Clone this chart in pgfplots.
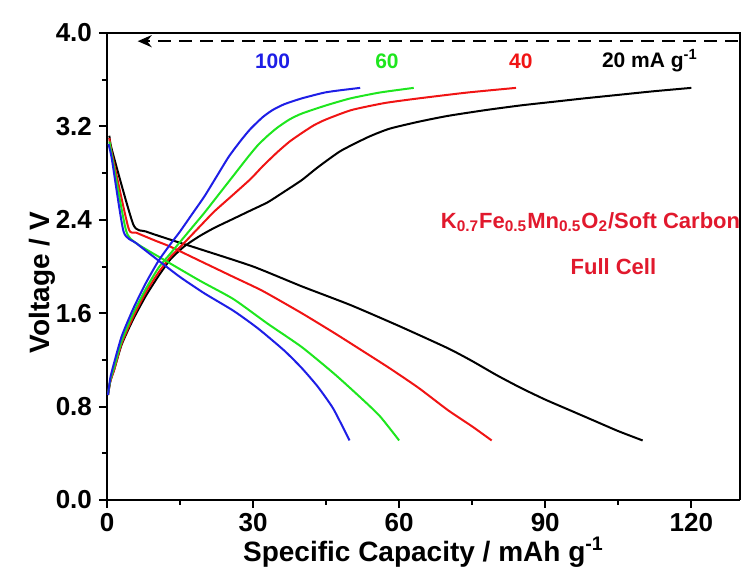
\documentclass[border=0pt]{standalone}
\usepackage{amsmath}
\usepackage{fontspec}
\setmainfont{Liberation Sans}
\usepackage{pgfplots}
\pgfplotsset{compat=1.18}
\usetikzlibrary{arrows.meta}
\definecolor{cblue}{RGB}{30,30,230}
\definecolor{cgreen}{RGB}{30,230,30}
\definecolor{cred}{RGB}{240,20,20}
\definecolor{tred}{RGB}{225,25,45}
\begin{document}
\begin{tikzpicture}
\begin{axis}[
  scale only axis, width=316.5pt, height=233.5pt,
  xmin=0, xmax=130, ymin=0, ymax=4,
  xtick={0,30,60,90,120}, minor xtick={15,45,75,105},
  ytick={0,0.8,1.6,2.4,3.2,4.0}, minor ytick={0.4,1.2,2.0,2.8,3.6},
  yticklabel style={/pgf/number format/fixed, /pgf/number format/fixed zerofill, /pgf/number format/precision=1},
  /pgf/number format/assume math mode=true,
  tick align=outside, axis x line*=bottom, axis y line*=left,
  major tick length=4pt, minor tick length=2.5pt,
  every tick/.style={black, line width=1pt},
  axis line style={line width=1pt},
  ticklabel style={font=\fontsize{13}{15}\selectfont\bfseries},
  xticklabel style={yshift=1pt},
  xlabel={Specific Capacity / mAh g$^{\text{-1}}$},
  ylabel={Voltage / V},
  label style={font=\fontsize{14}{16}\selectfont\bfseries},
  xlabel style={at={(axis description cs:0.5,0)}, anchor=center, yshift=-26pt},
  ylabel style={at={(axis description cs:0,0.465)}, anchor=center, yshift=32.5pt},
  clip=false,
  every axis plot/.style={line width=1pt, smooth, tension=0.35},
]
% black 20
\addplot[black] coordinates {(0.5,3.12)(1,3.0)(5.4,2.36)(8,2.3)(13,2.23)(19,2.15)(30,2.0)(40,1.83)(50,1.67)(60,1.49)(70,1.30)(75,1.19)(80,1.07)(85,0.96)(90,0.86)(95,0.77)(100,0.68)(105,0.59)(110,0.51)};
\addplot[black] coordinates {(0.2,0.9)(0.7,1.02)(1.5,1.12)(3,1.33)(5.4,1.55)(8,1.75)(10.6,1.92)(13,2.06)(15.8,2.17)(19,2.26)(22,2.33)(26,2.41)(29.5,2.48)(33,2.55)(36,2.63)(40,2.74)(43.3,2.85)(48,2.99)(53.7,3.11)(58,3.18)(64,3.24)(70,3.29)(77.8,3.34)(85,3.38)(91.5,3.41)(98,3.44)(105,3.47)(112,3.50)(120,3.53)};
% red 40
\addplot[cred] coordinates {(0.5,3.1)(1,2.97)(4.4,2.33)(6,2.29)(10,2.22)(13,2.17)(20,2.03)(26,1.91)(32,1.79)(40,1.6)(46.7,1.43)(52,1.29)(58,1.13)(64,0.96)(70,0.77)(75,0.63)(79,0.51)};
\addplot[cred] coordinates {(0.2,0.9)(0.7,1.02)(1.5,1.12)(3,1.34)(5.4,1.57)(8,1.78)(10.6,1.95)(13,2.08)(15.8,2.2)(19,2.34)(22,2.47)(25.5,2.6)(29.5,2.75)(32,2.86)(35,2.98)(37.5,3.07)(39.9,3.14)(42.5,3.21)(45,3.26)(50.2,3.34)(57,3.40)(64,3.44)(74,3.49)(84,3.53)};
% green 60
\addplot[cgreen] coordinates {(0.5,3.07)(1,2.95)(3.9,2.31)(6,2.2)(11.6,2.06)(19,1.88)(26,1.72)(33,1.51)(40,1.31)(46.7,1.08)(52,0.88)(56,0.72)(60,0.51)};
\addplot[cgreen] coordinates {(0.2,0.9)(0.7,1.03)(1.5,1.14)(3,1.36)(5.4,1.6)(8,1.81)(10.6,1.99)(13,2.11)(15,2.21)(18,2.36)(20,2.46)(23,2.62)(26,2.78)(29,2.94)(31,3.04)(33,3.12)(35,3.19)(37.5,3.26)(40,3.31)(45,3.38)(50,3.44)(56,3.49)(63,3.53)};
% blue 100
\addplot[cblue] coordinates {(0.3,3.05)(1,2.92)(3.4,2.30)(6,2.2)(10.3,2.06)(15,1.91)(20,1.77)(26,1.62)(31,1.47)(36.4,1.28)(40,1.13)(43.3,0.97)(46.5,0.78)(49.8,0.51)};
\addplot[cblue] coordinates {(0.2,0.9)(0.7,1.05)(1.3,1.15)(3,1.40)(5.4,1.64)(8,1.86)(10.6,2.05)(13,2.19)(15,2.3)(17.5,2.45)(20,2.6)(22.5,2.77)(25,2.94)(27.5,3.08)(29.5,3.18)(32,3.28)(34,3.34)(36.4,3.39)(40,3.44)(44.7,3.49)(48,3.51)(52,3.53)};
% top frame lines
\draw[line width=1pt] (rel axis cs:0,1) -- (rel axis cs:1,1) -- (rel axis cs:1,0);
% dashed arrow
\draw[line width=1.2pt, dash pattern=on 6.5pt off 4pt, -{Stealth[length=7pt,width=6pt]}] (axis cs:129.5,3.93) -- (axis cs:6.3,3.93);
% labels
\node[cblue, font=\fontsize{10.5}{12}\selectfont\bfseries] at (axis cs:34,3.76) {100};
\node[cgreen, font=\fontsize{10.5}{12}\selectfont\bfseries] at (axis cs:57.5,3.76) {60};
\node[cred, font=\fontsize{10.5}{12}\selectfont\bfseries] at (axis cs:85,3.76) {40};
\node[black, font=\fontsize{10.5}{12}\selectfont\bfseries] at (axis cs:111.5,3.76) {20 mA g$^{\text{-1}}$};
\node[tred, font=\fontsize{11}{13}\selectfont\bfseries] at (axis cs:99.3,2.38) {K$_{\text{0.7}}$Fe$_{\text{0.5}}$Mn$_{\text{0.5}}$O$_{\text{2}}$/Soft Carbon};
\node[tred, font=\fontsize{11}{13}\selectfont\bfseries] at (axis cs:104,2.0) {Full Cell};
\end{axis}
\pgfresetboundingbox
\path ([xshift=-53.5pt,yshift=-36.5pt]current axis.south west) rectangle ([xshift=5pt,yshift=16.5pt]current axis.north east);
\end{tikzpicture}
\end{document}
